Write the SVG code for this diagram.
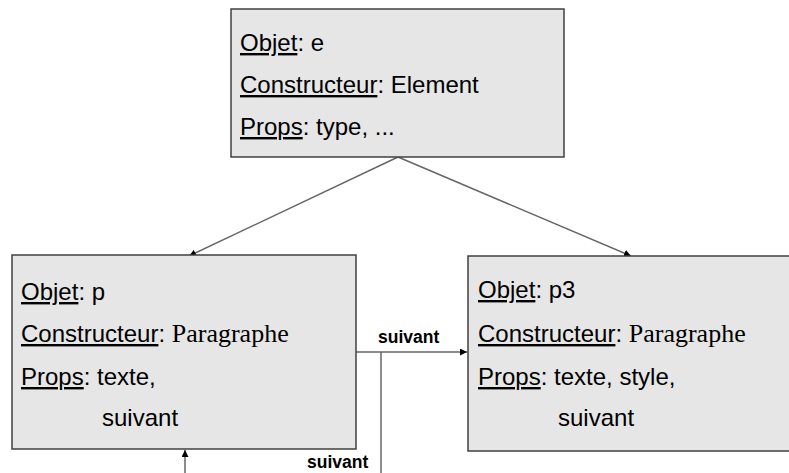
<svg xmlns="http://www.w3.org/2000/svg" width="789" height="473" viewBox="0 0 789 473">
<style>
.box{fill:#e6e6e6;stroke:#404040;stroke-width:1.5}
.t{font-family:"Liberation Sans",Arial,sans-serif;font-size:24px;fill:#000}
.s{font-family:"Liberation Serif","Times New Roman",serif;font-size:26px}
.u{text-decoration:underline}
.c{fill:none;stroke:#666;stroke-width:1.5}
.lbl{font-family:"Liberation Sans",Arial,sans-serif;font-size:17.5px;font-weight:bold;fill:#000}
</style>
<defs>
<marker id="ah" viewBox="0 0 10 10" refX="10" refY="5" markerWidth="7" markerHeight="7" markerUnits="userSpaceOnUse" orient="auto">
<path d="M0,0 L10,5 L0,10 z" fill="#000"/>
</marker>
</defs>
<rect width="789" height="473" fill="#fff"/>
<g id="connectors">
<line class="c" x1="398" y1="157" x2="189" y2="256" marker-end="url(#ah)"/>
<line class="c" x1="398" y1="157" x2="631" y2="256" marker-end="url(#ah)"/>
<line class="c" x1="356" y1="352" x2="467" y2="352" marker-end="url(#ah)"/>
<path class="c" d="M381,352 V485 H185 V450" marker-end="url(#ah)"/>
<text class="lbl" x="378" y="343">suivant</text>
<text class="lbl" x="307" y="468">suivant</text>
</g>
<g id="node-e">
<rect class="box" x="231" y="9" width="333" height="148"/>
<text class="t" x="240" y="51"><tspan class="u">Objet</tspan>: e</text>
<text class="t" x="240" y="93"><tspan class="u">Constructeur</tspan>: Element</text>
<text class="t" x="240" y="135"><tspan class="u">Props</tspan>: type, ...</text>
</g>
<g id="node-p">
<rect class="box" x="12" y="255" width="344" height="194"/>
<text class="t" x="21" y="300"><tspan class="u">Objet</tspan>: p</text>
<text class="t" x="21" y="342"><tspan class="u">Constructeur</tspan>: <tspan class="s">Paragraphe</tspan></text>
<text class="t" x="21" y="385"><tspan class="u">Props</tspan>: texte,</text>
<text class="t" x="102" y="426">suivant</text>
</g>
<g id="node-p3">
<rect class="box" x="468" y="256" width="340" height="195"/>
<text class="t" x="478" y="298"><tspan class="u">Objet</tspan>: p3</text>
<text class="t" x="478" y="342"><tspan class="u">Constructeur</tspan>: <tspan class="s">Paragraphe</tspan></text>
<text class="t" x="478" y="385"><tspan class="u">Props</tspan>: texte, style,</text>
<text class="t" x="558" y="426">suivant</text>
</g>
</svg>
